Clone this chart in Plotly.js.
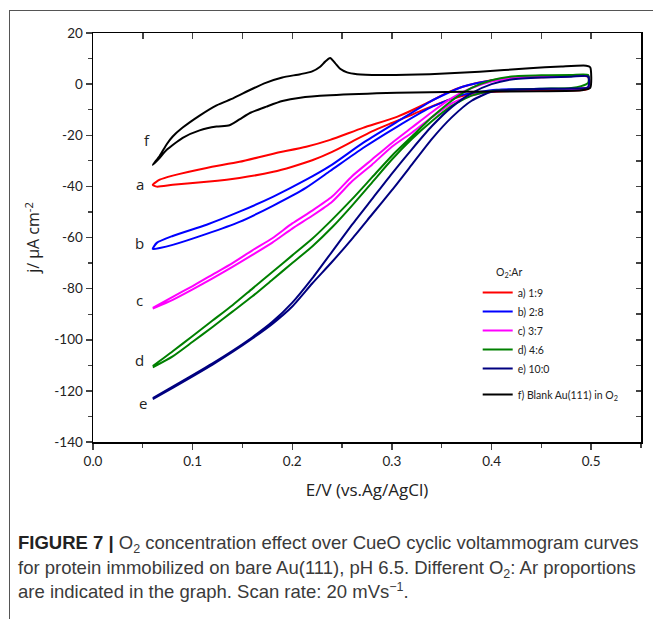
<!DOCTYPE html>
<html>
<head>
<meta charset="utf-8">
<script src="https://cdn.plot.ly/plotly-3.0.1.min.js"></script>
<style>
  html, body { margin:0; padding:0; background:#fff; width:653px; height:619px; overflow:hidden; }
  #frame { position:absolute; left:9px; top:10px; width:700px; height:700px; border-left:1px solid #555; border-top:1px solid #555; pointer-events:none; }
  #plot { position:absolute; left:0; top:0; width:653px; height:619px; }
  #caption { position:absolute; left:18px; top:531px; font-family:"Liberation Sans", Arial, sans-serif; font-size:18.5px; color:#3a3a3a; line-height:24.5px; white-space:nowrap; }
  #caption > div { height:24.5px; }
  #caption b { color:#222; }
  .sb { position:relative; top:4px; font-size:12.5px; line-height:0; vertical-align:baseline; }
  .sp { position:relative; top:-7px; font-size:12.5px; line-height:0; vertical-align:baseline; }
</style>
</head>
<body>
<div id="plot"></div>
<div id="frame"></div>
<div id="caption">
  <div><b>FIGURE 7 |</b> O<span class="sb">2</span> concentration effect over CueO cyclic voltammogram curves</div>
  <div>for protein immobilized on bare Au(111), pH 6.5. Different O<span class="sb">2</span>: Ar proportions</div>
  <div>are indicated in the graph. Scan rate: 20 mVs<span class="sp">−1</span>.</div>
</div>
<script>
// ---- data (E in V, j in µA cm^-2); each curve: upper and lower branch, both left->right ----
const aUpE = [0.060,0.067,0.080,0.114,0.147,0.181,0.214,0.238,0.271,0.305,0.338,0.355,0.371,0.400,0.430,0.460,0.497];
const aUpJ = [-39.4,-37.4,-35.8,-32.8,-30.4,-27.2,-24.5,-21.8,-17.1,-12.8,-6.9,-3.4,-1.0,1.5,2.5,2.8,2.8];
const aLoE = [0.060,0.064,0.080,0.114,0.147,0.181,0.200,0.220,0.240,0.260,0.280,0.300,0.320,0.340,0.360,0.380,0.400,0.450,0.497];
const aLoJ = [-39.4,-40.1,-39.4,-38.2,-36.7,-34.3,-32.3,-29.8,-26.5,-22.5,-18.5,-15.2,-12.0,-8.7,-5.8,-3.9,-3.0,-2.3,-1.8];

const bUpE = [0.060,0.064,0.080,0.114,0.147,0.181,0.214,0.238,0.271,0.305,0.338,0.371,0.405,0.430,0.460,0.497];
const bUpJ = [-64.5,-62.1,-59.4,-55.0,-49.9,-44.0,-37.4,-32.0,-23.0,-14.8,-6.9,-1.0,1.7,2.6,3.0,3.0];
const bLoE = [0.060,0.067,0.080,0.114,0.147,0.181,0.214,0.238,0.271,0.305,0.338,0.371,0.405,0.450,0.497];
const bLoJ = [-64.5,-64.1,-62.9,-58.6,-53.9,-47.5,-40.5,-34.0,-25.0,-16.7,-9.3,-4.2,-2.2,-1.8,-1.2];

const cUpE = [0.060,0.080,0.100,0.120,0.140,0.160,0.180,0.200,0.220,0.240,0.260,0.280,0.300,0.320,0.340,0.360,0.380,0.400,0.420,0.450,0.480,0.497];
const cUpJ = [-87.5,-83.2,-79.0,-74.5,-70.0,-65.0,-60.3,-54.5,-49.5,-44.0,-36.0,-29.5,-23.0,-17.0,-11.0,-5.5,-1.5,1.0,2.4,3.0,3.2,3.2];
const cLoE = [0.060,0.080,0.100,0.120,0.140,0.160,0.180,0.200,0.220,0.240,0.260,0.280,0.300,0.320,0.340,0.360,0.380,0.400,0.420,0.450,0.480,0.497];
const cLoJ = [-87.8,-84.4,-80.3,-76.0,-71.5,-66.8,-62.0,-56.5,-51.5,-46.0,-38.0,-31.5,-24.5,-19.0,-13.0,-7.5,-4.5,-3.0,-2.4,-2.0,-1.8,-1.2];

const dUpE = [0.060,0.080,0.100,0.120,0.140,0.160,0.180,0.200,0.220,0.240,0.260,0.280,0.300,0.320,0.340,0.360,0.380,0.400,0.420,0.450,0.480,0.497];
const dUpJ = [-110.3,-104.5,-98.5,-92.5,-86.5,-80.0,-73.5,-67.0,-60.5,-53.0,-45.0,-36.5,-28.0,-20.5,-13.0,-6.5,-1.5,1.5,3.0,3.5,3.6,3.6];
const dLoE = [0.060,0.080,0.100,0.120,0.140,0.160,0.180,0.200,0.220,0.240,0.260,0.280,0.300,0.320,0.340,0.360,0.380,0.400,0.420,0.450,0.480,0.490,0.497];
const dLoJ = [-110.8,-106.5,-100.8,-95.0,-89.0,-83.0,-76.5,-70.0,-63.5,-56.0,-47.5,-38.5,-29.5,-21.5,-14.5,-8.5,-4.5,-2.8,-2.2,-1.8,-1.5,-0.8,0.5];

const eUpE = [0.060,0.080,0.100,0.120,0.140,0.160,0.180,0.200,0.220,0.240,0.260,0.280,0.300,0.320,0.340,0.360,0.380,0.400,0.420,0.450,0.480,0.497];
const eUpJ = [-122.8,-118.3,-113.8,-109.2,-104.3,-99.0,-93.0,-85.5,-76.0,-65.5,-55.0,-45.0,-35.0,-25.5,-16.5,-9.0,-3.5,0.0,1.8,2.6,2.9,3.0];
const eLoE = [0.060,0.080,0.100,0.120,0.140,0.160,0.180,0.200,0.220,0.240,0.260,0.280,0.300,0.320,0.340,0.360,0.380,0.400,0.420,0.450,0.480,0.497];
const eLoJ = [-123.2,-118.8,-114.3,-109.7,-104.8,-99.5,-93.8,-87.0,-78.0,-69.5,-60.5,-51.0,-41.5,-31.5,-21.5,-13.0,-6.5,-3.0,-2.2,-1.9,-1.7,-1.2];

const fUpE = [0.060,0.067,0.074,0.080,0.090,0.107,0.124,0.141,0.158,0.174,0.190,0.208,0.220,0.228,0.233,0.238,0.243,0.248,0.255,0.265,0.288,0.338,0.388,0.438,0.470,0.495,0.499];
const fUpJ = [-31.6,-28.0,-23.5,-20.5,-17.0,-12.3,-8.3,-5.5,-2.2,0.6,2.6,3.9,5.0,6.8,8.8,10.2,8.2,6.0,4.6,3.9,3.6,3.9,4.8,6.2,6.9,7.2,6.6];
const fLoE = [0.060,0.067,0.074,0.090,0.107,0.124,0.137,0.147,0.158,0.174,0.190,0.208,0.238,0.305,0.371,0.448,0.490,0.499];
const fLoJ = [-31.6,-28.8,-25.7,-21.0,-18.1,-16.6,-16.1,-13.8,-11.2,-8.8,-6.6,-5.3,-4.4,-3.4,-3.0,-2.8,-2.4,-1.5];

const seriesNames = ['a) 1:9','b) 2:8','c) 3:7','d) 4:6','e) 10:0','f) Blank Au(111) in O<sub>2</sub>'];
const seriesColors = ['#ff0000','#0000ff','#ff00ff','#008000','#000080','#000000'];
const curveLetters = ['a','b','c','d','e','f'];
const labelE = [0.047,0.047,0.047,0.047,0.050,0.054];
const labelJ = [-39,-62,-84.5,-108,-124.7,-21.8];
const legendTitle = 'O<sub>2</sub>:Ar';

const xTickVals = [0,0.1,0.2,0.3,0.4,0.5];
const xTickText = ['0.0','0.1','0.2','0.3','0.4','0.5'];
const yTickVals = [-140,-120,-100,-80,-60,-40,-20,0,20];
const yTickText = ['-140','-120','-100','-80','-60','-40','-20','0','20'];

// ---- build loops ----
function loop(upE, upJ, loE, loJ){
  return { x: upE.concat(loE.slice().reverse()), y: upJ.concat(loJ.slice().reverse()) };
}
const loops = [
  loop(aUpE,aUpJ,aLoE,aLoJ), loop(bUpE,bUpJ,bLoE,bLoJ), loop(cUpE,cUpJ,cLoE,cLoJ),
  loop(dUpE,dUpJ,dLoE,dLoJ), loop(eUpE,eUpJ,eLoE,eLoJ), loop(fUpE,fUpJ,fLoE,fLoJ)
];
const traces = loops.map((L,i)=>({
  type:'scatter', mode:'lines', x:L.x, y:L.y, name:seriesNames[i],
  line:{color:seriesColors[i], width:2, shape:'spline', smoothing:0.6},
  legendgroup: i<5 ? 'g1' : 'g2', showlegend:true
}));
// empty trace to activate the mirrored top/right axes
traces.push({type:'scatter', mode:'lines', x:[], y:[], xaxis:'x2', yaxis:'y2', showlegend:false, hoverinfo:'skip'});

const FONT = 'Lato, "Open Sans", sans-serif';
const TFONT = '"Open Sans", Lato, sans-serif';
const annotations = curveLetters.map((t,i)=>({
  x:labelE[i], y:labelJ[i], xref:'x', yref:'y', text:t, showarrow:false,
  font:{family:TFONT, size:15, color:'#222'}
}));
annotations.push({x:0.418, y:-74, xref:'x', yref:'y', text:legendTitle, showarrow:false, font:{family:FONT, size:10.5, color:'#222'}});

const layout = {
  width:653, height:619,
  margin:{l:93, r:12, t:33, b:177},
  paper_bgcolor:'rgba(0,0,0,0)', plot_bgcolor:'#fff',
  showlegend:true,
  legend:{x:0.702, y:0.401, xanchor:'left', yanchor:'top', bgcolor:'rgba(0,0,0,0)',
          font:{family:FONT, size:10.5, color:'#222'}, itemwidth:30, tracegroupgap:7, traceorder:'grouped'},
  xaxis:{range:[0,0.55], tickvals:xTickVals, ticktext:xTickText, ticks:'outside', ticklen:6, tickwidth:1.5,
         showline:true, linewidth:1.5, linecolor:'#000', showgrid:false, zeroline:false,
         minor:{dtick:0.05, tick0:0, ticks:'outside', ticklen:4, tickwidth:1.2, showgrid:false},
         tickfont:{family:FONT, size:13.5, color:'#222'},
         title:{text:'E/V (vs.Ag/AgCl)', font:{family:TFONT, size:17, color:'#222'}, standoff:16}},
  yaxis:{range:[-140,20], tickvals:yTickVals, ticktext:yTickText, ticks:'outside', ticklen:6, tickwidth:1.5,
         showline:true, linewidth:1.5, linecolor:'#000', showgrid:false, zeroline:false,
         minor:{dtick:10, tick0:0, ticks:'outside', ticklen:4, tickwidth:1.2, showgrid:false},
         tickfont:{family:FONT, size:13.5, color:'#222'},
         title:{text:'j/ μA cm<sup>-2</sup>', font:{family:TFONT, size:16, color:'#222'}, standoff:10}},
  xaxis2:{overlaying:'x', side:'top', anchor:'y', range:[0,0.55], tick0:0, dtick:0.05, ticks:'inside', ticklen:6, tickwidth:1.5,
          showticklabels:false, showline:true, linewidth:1.5, linecolor:'#000', showgrid:false, zeroline:false},
  yaxis2:{overlaying:'y', side:'right', anchor:'x', range:[-140,20], tick0:0, dtick:10, ticks:'inside', ticklen:5, tickwidth:1.5,
          showticklabels:false, showline:true, linewidth:1.5, linecolor:'#000', showgrid:false, zeroline:false},
  annotations:annotations
};
Plotly.newPlot('plot', traces, layout, {staticPlot:true, displayModeBar:false});
</script>
</body>
</html>
